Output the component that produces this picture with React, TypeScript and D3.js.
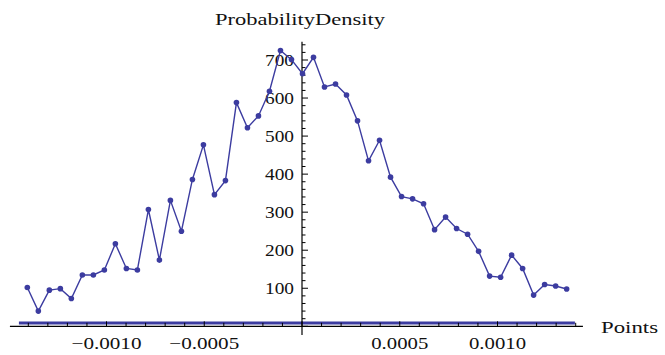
import React from "react";
import * as d3 from "d3";

const binCenters: number[] = [
  -0.001405, -0.0013487, -0.0012924, -0.0012361, -0.0011798, -0.0011235, -0.0010672, -0.0010109,
  -0.0009546, -0.0008983, -0.000842, -0.0007857, -0.0007294, -0.0006731, -0.0006168, -0.0005605,
  -0.0005042, -0.0004479, -0.0003916, -0.0003353, -0.000279, -0.0002227, -0.0001664, -0.0001101,
  -0.0000538, 0.0000025, 0.0000588, 0.0001151, 0.0001714, 0.0002277, 0.000284, 0.0003403,
  0.0003966, 0.0004529, 0.0005092, 0.0005655, 0.0006218, 0.0006781, 0.0007344, 0.0007907,
  0.000847, 0.0009033, 0.0009596, 0.0010159, 0.0010722, 0.0011285, 0.0011848, 0.0012411,
  0.0012974, 0.0013537,
];

const density: number[] = [
  102, 40, 95, 99, 73, 135, 135, 148, 217, 152,
  148, 307, 174, 331, 250, 386, 477, 346, 383, 588,
  522, 553, 618, 725, 701, 664, 707, 629, 637, 608,
  540, 435, 489, 392, 341, 335, 322, 254, 287, 257,
  242, 197, 132, 129, 187, 152, 82, 110, 106, 98,
];

const baselineX: number[] = [-0.001448, 0.001396];
const baselineY: number[] = [9, 9];

const xMajorTicks: number[] = [-0.001, -0.0005, 0.0005, 0.001];
const xMajorLabels: string[] = ["\u22120.0010", "\u22120.0005", "0.0005", "0.0010"];
const yMajorTicks: number[] = [100, 200, 300, 400, 500, 600, 700];
const yMajorLabels: string[] = ["100", "200", "300", "400", "500", "600", "700"];

const xAxisRange: [number, number] = [-0.001494, 0.001437];
const yAxisRange: [number, number] = [-23, 748];

export default function App() {
  const width = 665;
  const height = 355;

  const x = d3.scaleLinear().domain([0, 0.001]).range([302, 497.5]);
  const y = d3.scaleLinear().domain([0, 700]).range([326.3, 60]);

  const line = d3
    .line<number>()
    .x((_, i) => x(binCenters[i]))
    .y((d) => y(d));

  const xMinor = d3.range(-14, 15).map((k) => k * 0.0001).filter((v) => v >= xAxisRange[0] && v <= xAxisRange[1]);
  const yMinor = d3.range(0, 38).map((k) => k * 20).filter((v) => v <= yAxisRange[1]);

  const color = "#3c3ca0";
  const font = "'Liberation Serif', 'Times New Roman', serif";

  return (
    <svg
      width={width}
      height={height}
      style={{ position: "absolute", left: 0, top: 0, background: "#fff" }}
      fontFamily={font}
    >
      {/* baseline series */}
      <line
        x1={x(baselineX[0])}
        x2={x(baselineX[1])}
        y1={y(baselineY[0])}
        y2={y(baselineY[1])}
        stroke={color}
        strokeWidth={3}
      />
      {/* x axis */}
      <line x1={x(xAxisRange[0])} x2={x(xAxisRange[1])} y1={y(0)} y2={y(0)} stroke="#000" strokeWidth={1.2} />
      {xMinor.map((v, i) => {
        const major = Math.abs(Math.round(v * 10000)) % 5 === 0;
        return (
          <line key={"xm" + i} x1={x(v)} x2={x(v)} y1={y(0)} y2={y(0) - (major ? 5 : 3.5)} stroke="#000" strokeWidth={1} />
        );
      })}
      {xMajorTicks.map((v, i) => (
        <text
          key={"xl" + i}
          x={x(v)}
          y={349}
          fontSize={16}
          textAnchor="middle"
          textLength={xMajorLabels[i].startsWith("\u2212") ? 70 : 57}
          lengthAdjust="spacingAndGlyphs"
          fill="#111"
        >
          {xMajorLabels[i]}
        </text>
      ))}
      {/* y axis */}
      <line x1={x(0)} x2={x(0)} y1={y(yAxisRange[1])} y2={y(yAxisRange[0])} stroke="#000" strokeWidth={1.2} />
      {yMinor.map((v, i) => {
        const major = v % 100 === 0;
        return (
          <line key={"ym" + i} x1={x(0)} x2={x(0) + (major ? 6 : 3.5)} y1={y(v)} y2={y(v)} stroke="#000" strokeWidth={1} />
        );
      })}
      {yMajorTicks.map((v, i) => (
        <text
          key={"yl" + i}
          x={294}
          y={y(v) + 5.5}
          fontSize={16}
          textAnchor="end"
          textLength={29}
          lengthAdjust="spacingAndGlyphs"
          fill="#111"
        >
          {yMajorLabels[i]}
        </text>
      ))}
      {/* data line */}
      <path d={line(density) || ""} fill="none" stroke={color} strokeWidth={1.4} />
      {density.map((d, i) => (
        <circle key={"p" + i} cx={x(binCenters[i])} cy={y(d)} r={2.8} fill={color} />
      ))}
      {/* axis labels */}
      <text x={300} y={25} fontSize={16} textAnchor="middle" textLength={170} lengthAdjust="spacingAndGlyphs" fill="#111">
        ProbabilityDensity
      </text>
      <text x={601} y={333} fontSize={16} textLength={57} lengthAdjust="spacingAndGlyphs" fill="#111">
        Points
      </text>
    </svg>
  );
}
